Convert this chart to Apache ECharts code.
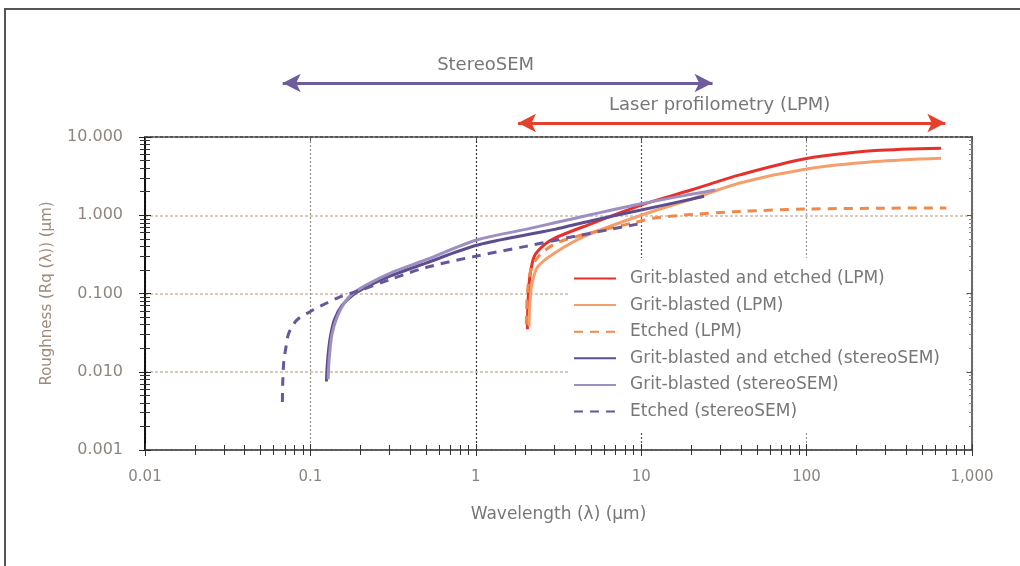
<!DOCTYPE html>
<html><head><meta charset="utf-8">
<script src="https://cdn.jsdelivr.net/npm/echarts@6/dist/echarts.min.js"></script>
<style>html,body{margin:0;padding:0;background:#fff}#c{width:1020px;height:566px}</style>
</head><body><div id="c"></div>
<script>
// ---- tick labels ----
const xTickLabels = ['0.01', '0.1', '1', '10', '100', '1,000'];
const yTickLabels = ['0.001', '0.010', '0.100', '1.000', '10.000'];

// ---- series names ----
const seriesNames = [
  'Grit-blasted and etched (LPM)',
  'Grit-blasted (LPM)',
  'Etched (LPM)',
  'Grit-blasted and etched (stereoSEM)',
  'Grit-blasted (stereoSEM)',
  'Etched (stereoSEM)'
];

// ---- measurement ranges (wavelength, µm) ----
const stereoRange = [0.068, 27];
const lpmRange = [1.8, 690];
const rangeNames = ['StereoSEM', 'Laser profilometry (LPM)'];

// ---- data: wavelength (µm) and roughness (µm) ----
const gbeLpmX = [2.05, 2.07, 2.12, 2.26, 2.6, 3, 4.75, 10, 20, 40, 100, 260, 650];
const gbeLpmY = [0.035, 0.08, 0.16, 0.3, 0.42, 0.51, 0.75, 1.35, 2.1, 3.3, 5.3, 6.7, 7.2];

const gbLpmX = [2.1, 2.12, 2.18, 2.37, 3, 4.75, 10, 20, 40, 100, 260, 650];
const gbLpmY = [0.038, 0.07, 0.13, 0.22, 0.33, 0.56, 1.0, 1.6, 2.6, 3.9, 4.85, 5.35];

const eLpmX = [2.02, 2.05, 2.15, 2.4, 3, 4, 6, 9, 12, 20, 40, 100, 300, 700];
const eLpmY = [0.04, 0.1, 0.2, 0.3, 0.43, 0.53, 0.66, 0.8, 0.92, 1.02, 1.12, 1.2, 1.23, 1.24];

const gbeSemX = [0.125, 0.127, 0.132, 0.14, 0.155, 0.18, 0.22, 0.3, 0.5, 1, 2, 3, 5, 10, 20, 24];
const gbeSemY = [0.0075, 0.014, 0.028, 0.047, 0.07, 0.095, 0.122, 0.165, 0.245, 0.41, 0.56, 0.66, 0.85, 1.17, 1.6, 1.75];

const gbSemX = [0.128, 0.13, 0.135, 0.145, 0.16, 0.18, 0.22, 0.3, 0.5, 1, 2, 3, 5, 10, 20, 28];
const gbSemY = [0.008, 0.015, 0.03, 0.05, 0.075, 0.1, 0.13, 0.18, 0.27, 0.48, 0.66, 0.8, 1.02, 1.4, 1.85, 2.1];

const eSemX = [0.0677, 0.068, 0.069, 0.071, 0.074, 0.083, 0.1, 0.123, 0.15, 0.2, 0.3, 0.5, 1, 2, 4, 6.5, 9.5];
const eSemY = [0.0041, 0.007, 0.0134, 0.02, 0.031, 0.046, 0.059, 0.074, 0.09, 0.11, 0.15, 0.215, 0.3, 0.4, 0.54, 0.66, 0.77];

// ---- styling ----
const FONT = "'DejaVu Sans', 'Liberation Sans', sans-serif";
const C = {
  red: '#e6302a', orange: '#f4a06c', orangeD: '#f08a4c',
  purpleD: '#5d4c8e', purpleL: '#9d8fc0', purpleE: '#66569a',
  arrowP: '#6e5c9c', arrowR: '#e5402c'
};

const pairs = (xs, ys) => xs.map((x, i) => [x, ys[i]]);
function mkLine(name, xs, ys, color, type) {
  return {
    name, type: 'line', data: pairs(xs, ys), smooth: 0.3, symbol: 'none',
    xAxisIndex: 0, yAxisIndex: 0, z: 3,
    lineStyle: { color, width: 3, type }, itemStyle: { color }
  };
}
const xLabel = v => xTickLabels[Math.round(Math.log10(v)) + 2];
const yLabel = v => yTickLabels[Math.round(Math.log10(v)) + 3];

const baseX = { type: 'log', min: 0.01, max: 1000, logBase: 10, gridIndex: 0 };
const baseY = { type: 'log', min: 0.001, max: 10, logBase: 10, gridIndex: 0 };

const chart = echarts.init(document.getElementById('c'));
chart.setOption({
  backgroundColor: '#fff',
  animation: false,
  grid: [
    { left: 145, right: 48, top: 137, bottom: 116 },
    { left: 145, right: 48, top: 55, height: 80 }
  ],
  xAxis: [
    Object.assign({}, baseX, {
      position: 'bottom',
      name: 'Wavelength (λ) (µm)', nameLocation: 'middle', nameGap: 56,
      nameTextStyle: { color: '#777', fontSize: 17, fontFamily: FONT },
      axisLine: { onZero: false, lineStyle: { color: '#333', width: 1.5 } },
      axisTick: { show: true, length: 6, lineStyle: { color: '#333' } },
      minorTick: { show: true, splitNumber: 9, length: 5, lineStyle: { color: '#333' } },
      axisLabel: { formatter: xLabel, color: '#8a8580', fontSize: 15, fontFamily: FONT, margin: 20 },
      splitLine: { show: true, lineStyle: { color: ['#777', '#9a9088', '#333', '#555', '#9a9a9a', '#777'], width: 1.2, type: [2, 2] } }
    }),
    Object.assign({}, baseX, {
      position: 'bottom',
      axisLine: { onZero: false, show: false },
      axisTick: { show: true, inside: true, length: 6, lineStyle: { color: '#333' } },
      minorTick: { show: true, splitNumber: 9, length: 5, lineStyle: { color: '#333' } },
      axisLabel: { show: false }, splitLine: { show: false }
    }),
    Object.assign({}, baseX, {
      position: 'top',
      axisLine: { onZero: false, lineStyle: { color: '#555', width: 2, type: [3, 2] } },
      axisTick: { show: true, inside: true, length: 4, lineStyle: { color: '#555' } },
      axisLabel: { show: false }, splitLine: { show: false }
    }),
    { type: 'log', min: 0.01, max: 1000, gridIndex: 1, show: false }
  ],
  yAxis: [
    Object.assign({}, baseY, {
      position: 'left',
      name: 'Roughness (Rq (λ)) (µm)', nameLocation: 'middle', nameGap: 90, nameRotate: 90,
      nameTextStyle: { color: '#9c8a7a', fontSize: 15, fontFamily: FONT },
      axisLine: { onZero: false, lineStyle: { color: '#111', width: 2 } },
      axisTick: { show: true, length: 6, lineStyle: { color: '#222' } },
      minorTick: { show: true, splitNumber: 9, length: 5, lineStyle: { color: '#333' } },
      axisLabel: { formatter: yLabel, color: '#8f8680', fontSize: 16, fontFamily: FONT, margin: 22 },
      splitLine: { show: true, lineStyle: { color: '#d8cabc', width: 2, type: [3, 2] } }
    }),
    Object.assign({}, baseY, {
      position: 'left',
      axisLine: { onZero: false, show: false },
      axisTick: { show: true, inside: true, length: 6, lineStyle: { color: '#222' } },
      minorTick: { show: true, splitNumber: 9, length: 5, lineStyle: { color: '#333' } },
      axisLabel: { show: false }, splitLine: { show: false }
    }),
    Object.assign({}, baseY, {
      position: 'right',
      axisLine: { onZero: false, lineStyle: { color: '#6a6a6a', width: 2 } },
      axisTick: { show: true, inside: true, length: 5, lineStyle: { color: '#555' } },
      minorTick: { show: true, splitNumber: 9, length: 3, lineStyle: { color: '#888' } },
      axisLabel: { show: false }, splitLine: { show: false }
    }),
    { type: 'value', min: 0, max: 80, inverse: true, gridIndex: 1, show: false }
  ],
  legend: {
    data: seriesNames, orient: 'vertical', left: 570, top: 258,
    itemWidth: 42, itemHeight: 14, itemGap: 9.6,
    backgroundColor: '#fff', padding: [12, 26, 12, 3],
    itemStyle: { opacity: 0, color: 'rgba(0,0,0,0)', borderWidth: 0 },
    textStyle: { color: '#777', fontSize: 17, fontFamily: FONT, padding: [0, 0, 0, 9] }
  },
  series: [
    mkLine(seriesNames[0], gbeLpmX, gbeLpmY, C.red, 'solid'),
    mkLine(seriesNames[1], gbLpmX, gbLpmY, C.orange, 'solid'),
    mkLine(seriesNames[2], eLpmX, eLpmY, C.orangeD, [9, 7]),
    mkLine(seriesNames[3], gbeSemX, gbeSemY, C.purpleD, 'solid'),
    mkLine(seriesNames[4], gbSemX, gbSemY, C.purpleL, 'solid'),
    mkLine(seriesNames[5], eSemX, eSemY, C.purpleE, [9, 7]),
    {
      name: 'ranges', type: 'line', data: [], xAxisIndex: 3, yAxisIndex: 3,
      markLine: {
        silent: true, symbol: ['arrow', 'arrow'], symbolSize: [14, 18],
        label: { show: true, position: 'insideMiddleTop', distance: 9, offset: [-12, 0], formatter: p => p.name,
                 color: '#777', fontSize: 18, fontFamily: FONT },
        data: [
          [{ coord: [stereoRange[0], 28], name: rangeNames[0], lineStyle: { color: C.arrowP, width: 3, type: 'solid' }, itemStyle: { color: C.arrowP } },
           { coord: [stereoRange[1], 28] }],
          [{ coord: [lpmRange[0], 68], name: rangeNames[1], lineStyle: { color: C.arrowR, width: 3, type: 'solid' }, itemStyle: { color: C.arrowR } },
           { coord: [lpmRange[1], 68] }]
        ]
      }
    }
  ],
  graphic: [
    { type: 'polyline', shape: { points: [[5, 566], [5, 9], [1020, 9]] }, style: { stroke: '#555', lineWidth: 2, fill: null }, silent: true }
  ]
});
</script>
</body></html>
